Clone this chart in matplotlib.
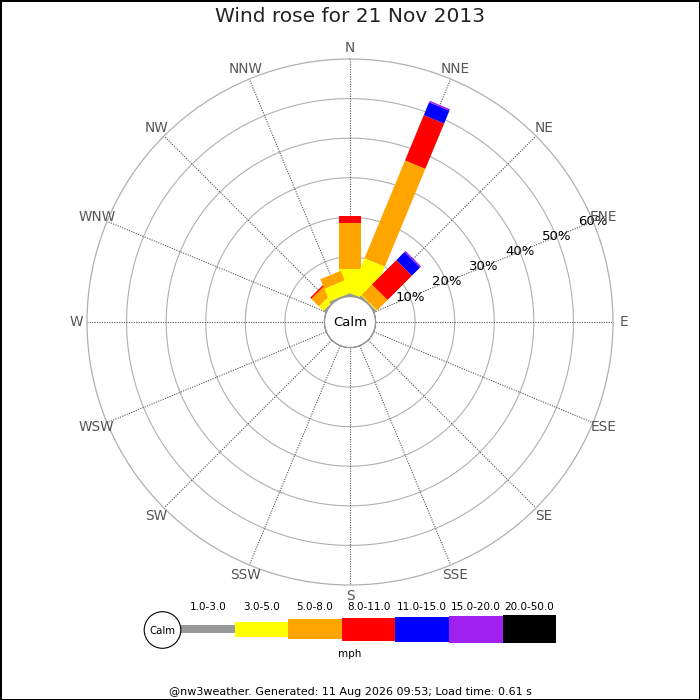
import numpy as np
import matplotlib
matplotlib.use("Agg")
import matplotlib.pyplot as plt
from matplotlib.patches import Polygon, Circle, Rectangle

# ---------------- data ----------------
directions = ['N', 'NNE', 'NE', 'ENE', 'E', 'ESE', 'SE', 'SSE',
              'S', 'SSW', 'SW', 'WSW', 'W', 'WNW', 'NW', 'NNW']
speed_bins = ['1.0-3.0', '3.0-5.0', '5.0-8.0', '8.0-11.0',
              '11.0-15.0', '15.0-20.0', '20.0-50.0']
bin_colors = ['#999999', '#FFFF00', '#FFA500', '#FF0000',
              '#0000FF', '#A020F0', '#000000']
#            N    NNE   NE  ENE E ESE SE SSE S SSW SW WSW W WNW  NW   NNW
freq_1_3   = [0.3, 0.3, 0.3, 0, 0, 0, 0, 0, 0, 0, 0, 0, 0, 0, 0.3, 0.3]
freq_3_5   = [6.6, 9.6, 0.2, 0, 0, 0, 0, 0, 0, 0, 0, 0, 0, 0, 1.6, 3.5]
freq_5_8   = [11.7, 26.7, 3.7, 0, 0, 0, 0, 0, 0, 0, 0, 0, 0, 0, 2.7, 2.6]
freq_8_11  = [1.8, 12.4, 8.7, 0, 0, 0, 0, 0, 0, 0, 0, 0, 0, 0, 0.4, 0]
freq_11_15 = [0, 3.5, 2.9, 0, 0, 0, 0, 0, 0, 0, 0, 0, 0, 0, 0, 0]
freq_15_20 = [0, 0.4, 0.4, 0, 0, 0, 0, 0, 0, 0, 0, 0, 0, 0, 0, 0]
freq_20_50 = [0, 0, 0, 0, 0, 0, 0, 0, 0, 0, 0, 0, 0, 0, 0, 0]
ring_values = [10, 20, 30, 40, 50, 60]
ring_labels = ['10%', '20%', '30%', '40%', '50%', '60%']
title = 'Wind rose for 21 Nov 2013'
footer = '@nw3weather. Generated: 11 Aug 2026 09:53; Load time: 0.61 s'

# ---------------- figure ----------------
W = H = 700
fig = plt.figure(figsize=(7, 7), dpi=100)
fig.patch.set_facecolor('white')
fig.patch.set_edgecolor('black')
fig.patch.set_linewidth(2)

cx, cy, R = 350, 322, 263
ax = fig.add_axes([(cx - R) / W, (H - cy - R) / H, 2 * R / W, 2 * R / H],
                  projection='polar')
rmax = 60
calm_px = 25.5
OFF = calm_px / (R - calm_px) * rmax
ax.set_theta_zero_location('N')
ax.set_theta_direction(-1)
ax.set_ylim(0, rmax)
ax.set_rorigin(-OFF)
ax.grid(False)
ax.set_xticks([])
ax.set_yticks([])
ax.spines['polar'].set_color('#b0b0b0')
ax.spines['polar'].set_linewidth(0.9)

angles = np.deg2rad(np.arange(16) * 22.5)
tfull = np.linspace(0, 2 * np.pi, 400)
for r in ring_values[:-1]:
    ax.plot(tfull, np.full_like(tfull, r), color='#b0b0b0', lw=0.8, zorder=1)
for t in angles:
    ax.plot([t, t], [0, rmax], color='#555555', lw=0.8, ls=(0, (1, 1.2)), zorder=1)

# stacked rectangular bars
series = [freq_1_3, freq_3_5, freq_5_8, freq_8_11, freq_11_15, freq_15_20, freq_20_50]
vals = np.array(series)
half_w = 11 / R * (rmax + OFF)

def rect(theta, a0, a1, h):
    pts = []
    for along, perp in [(a0, -h), (a1, -h), (a1, h), (a0, h)]:
        rho = np.hypot(along, perp)
        ang = theta + np.arctan2(perp, along)
        pts.append((ang, rho - OFF))
    return np.array(pts)

for d, t in enumerate(angles):
    cum = 0.0
    for k in range(len(series)):
        v = vals[k, d]
        if v <= 0:
            continue
        a0 = (cum + OFF) if cum > 0 else OFF * 0.85
        a1 = cum + v + OFF
        poly = Polygon(rect(t, a0, a1, half_w), closed=True,
                       transform=ax.transData, facecolor=bin_colors[k],
                       edgecolor='none', zorder=3)
        ax.add_patch(poly)
        cum += v

# calm disc
ax.add_patch(Circle((0.5, 0.5), 0.5 * OFF / (rmax + OFF), transform=ax.transAxes,
                    facecolor='white', edgecolor='#999999', lw=1.0, zorder=5,
                    clip_on=False))
ax.text(0.5, 0.5, 'Calm', transform=ax.transAxes, ha='center', va='center',
        fontsize=9.5, color='black', zorder=6)

# ring labels along ENE
for r, lab in zip(ring_values, ring_labels):
    ax.text(np.deg2rad(67.5), r, lab, ha='center', va='center', fontsize=9.5,
            color='black', zorder=6)

# direction labels
lab_r = 274 / R * (rmax + OFF) - OFF
for t, name in zip(angles, directions):
    ax.text(t, lab_r, name, ha='center', va='center', fontsize=9.8,
            color='#555555', zorder=6)

# title
fig.text(0.5, 1 - 17 / H, title, ha='center', va='center', fontsize=14.5,
         color='#222222')

# ---------------- legend (pixel overlay) ----------------
lax = fig.add_axes([0, 0, 1, 1])
lax.set_xlim(0, W)
lax.set_ylim(H, 0)
lax.axis('off')
lax.patch.set_visible(False)

leg_x0, leg_w, leg_cy = 181, 53.6, 629.3
leg_heights = [8, 15, 20, 23, 25, 26.7, 28.3]
for i, (lab, col) in enumerate(zip(speed_bins, bin_colors)):
    x = leg_x0 + i * leg_w
    h = leg_heights[i]
    lax.add_patch(Rectangle((x, leg_cy - h / 2), leg_w, h, facecolor=col,
                            edgecolor='none'))
    lax.text(x + leg_w / 2, 607, lab, ha='center', va='center', fontsize=7.5,
             color='black')
lax.add_patch(Circle((162.5, 630), 18.3, facecolor='white', edgecolor='black',
                     lw=0.8))
lax.text(162.5, 630.5, 'Calm', ha='center', va='center', fontsize=7.3)
lax.text(350, 654, 'mph', ha='center', va='center', fontsize=7.5)
lax.text(350, 692, footer, ha='center', va='center', fontsize=8)

fig.savefig('out.png', dpi=100)
